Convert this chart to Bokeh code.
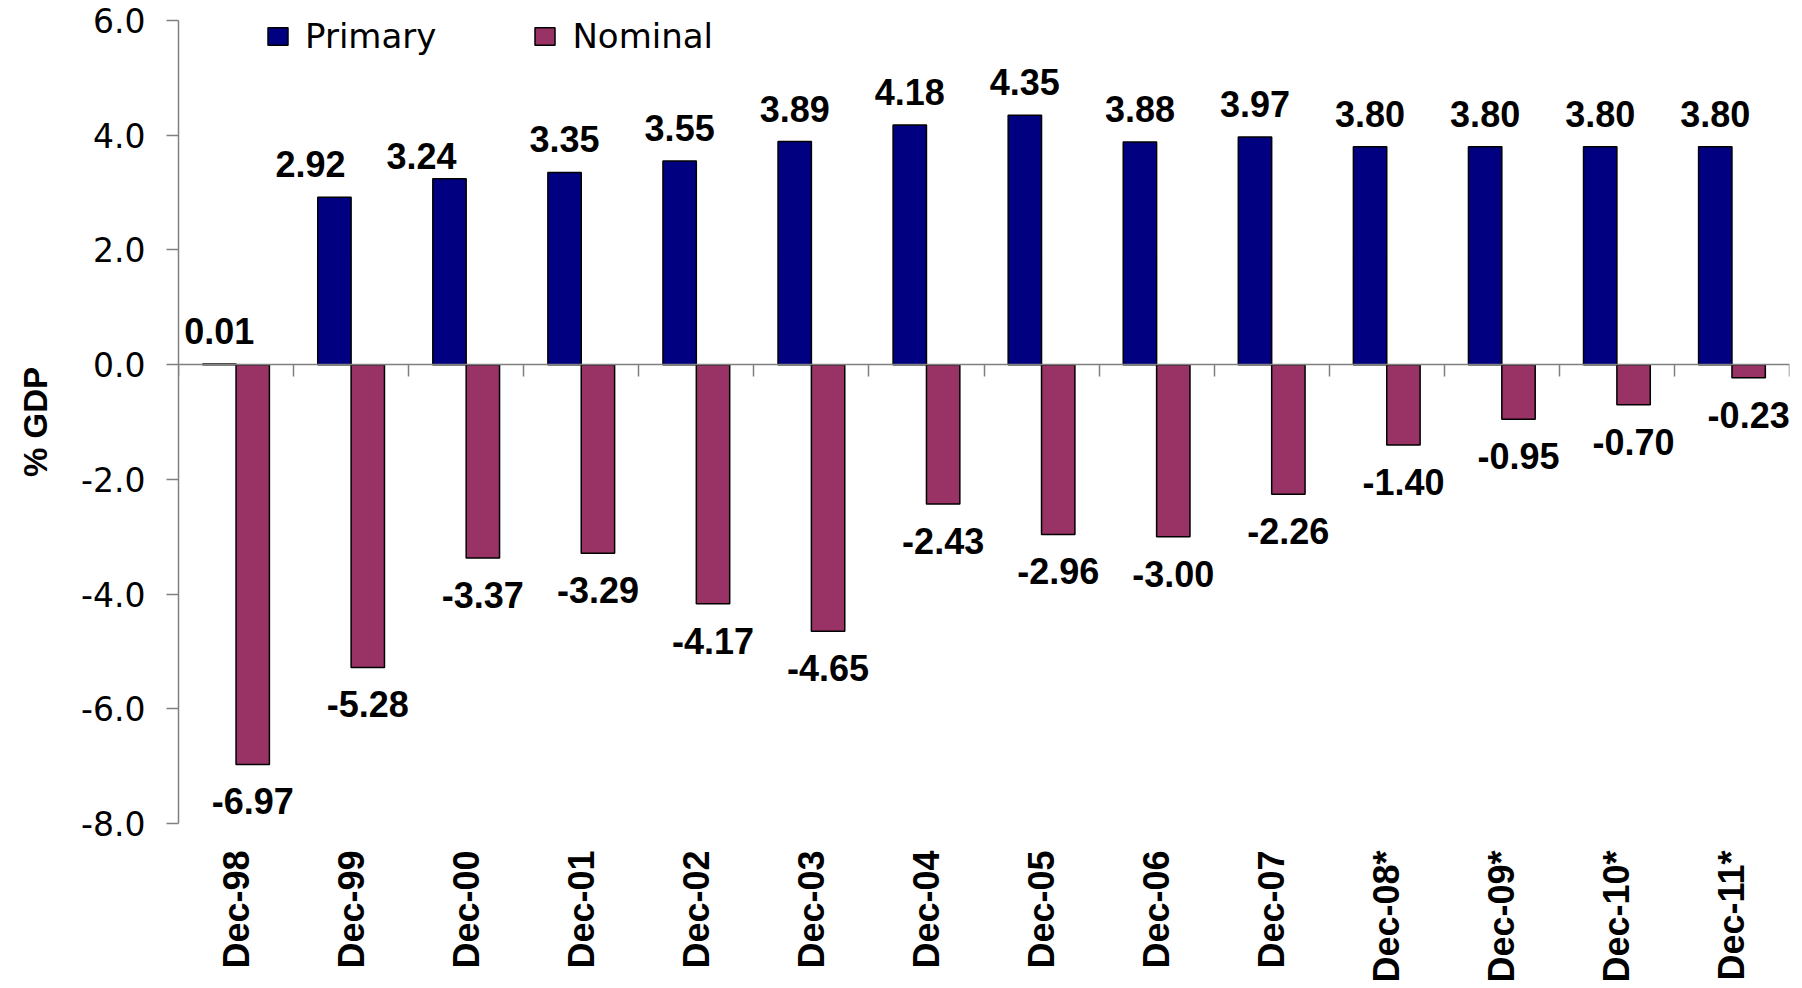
import math
from bokeh.plotting import figure
from bokeh.models import (Range1d, LinearAxis, FixedTicker,
                          NumeralTickFormatter, ColumnDataSource)
from bokeh.transform import dodge
from bokeh.core.properties import value
from bokeh.embed import file_html
from bokeh.resources import INLINE

# ---- data ----
categories = ["Dec-98", "Dec-99", "Dec-00", "Dec-01", "Dec-02", "Dec-03", "Dec-04",
              "Dec-05", "Dec-06", "Dec-07", "Dec-08*", "Dec-09*", "Dec-10*", "Dec-11*"]
primary = [0.01, 2.92, 3.24, 3.35, 3.55, 3.89, 4.18, 4.35, 3.88, 3.97, 3.80, 3.80, 3.80, 3.80]
nominal = [-6.97, -5.28, -3.37, -3.29, -4.17, -4.65, -2.43, -2.96, -3.00, -2.26, -1.40, -0.95, -0.70, -0.23]
y_ticks = [-8, -6, -4, -2, 0, 2, 4, 6]

# label placement nudges (screen px) for primary labels, as in the original
primary_label_dx = [0, -24, -28, 0, 0, 0, 0, 0, 0, 0, 0, 0, 0, 0]
primary_label_dy = [0, 0, 10, 0, 0, 0, 0, 0, 0, 0, 0, 0, 0, 0]

BLUE = "#000080"
PINK = "#993366"
GREY = "#808080"

n = len(categories)
centers = [i + 0.5 for i in range(n)]          # category slot centres
boundaries = list(range(n + 1))                 # slot boundaries (tick marks)

src = ColumnDataSource(dict(
    xc=centers,
    primary=primary,
    nominal=nominal,
    plab=[f"{v:.2f}" for v in primary],
    nlab=[f"{v:.2f}" for v in nominal],
    pdx=primary_label_dx,
    pdy=[-33 + d for d in primary_label_dy],
))

p = figure(x_range=Range1d(0, n), y_range=Range1d(-8, 6),
           width=1802, height=988, output_backend="svg", toolbar_location=None,
           min_border_left=178, min_border_right=13, min_border_top=20,
           min_border_bottom=165, x_axis_type=None)
p.outline_line_color = None
p.xgrid.visible = False
p.ygrid.visible = False
p.background_fill_color = "white"

# bars
p.vbar(x=dodge("xc", -0.145), top="primary", bottom=0, width=0.29,
       fill_color=BLUE, line_color="black", line_width=1.5, source=src,
       legend_label="Primary")
p.vbar(x=dodge("xc", 0.145), top="nominal", bottom=0, width=0.29,
       fill_color=PINK, line_color="black", line_width=1.5, source=src,
       legend_label="Nominal")

# value labels
p.text(x=dodge("xc", -0.145), y="primary", text="plab",
       x_offset="pdx", y_offset="pdy",
       text_font=value("Liberation Sans"), text_font_style="bold", text_font_size="36px",
       text_align="center", text_baseline="alphabetic", text_color="black", source=src)
p.text(x=dodge("xc", 0.145), y="nominal", text="nlab",
       y_offset=37,
       text_font=value("Liberation Sans"), text_font_style="bold", text_font_size="36px",
       text_align="center", text_baseline="alphabetic", text_color="black", source=src)

# category axis (labels only)
xa = LinearAxis(ticker=FixedTicker(ticks=centers),
                major_label_overrides={c: lab for c, lab in zip(centers, categories)})
xa.axis_line_color = None
xa.major_tick_line_color = None
xa.minor_tick_line_color = None
xa.major_tick_in = 0
xa.major_tick_out = 0
xa.major_label_orientation = math.pi / 2
xa.major_label_text_font = "Liberation Sans"
xa.major_label_text_font_style = "bold"
xa.major_label_text_font_size = "36px"
xa.major_label_text_color = "black"
xa.major_label_standoff = 27
p.add_layout(xa, "below")

# zero line axis with ticks between categories (placed in the top panel, drawn at y=0)
zax = LinearAxis(ticker=FixedTicker(ticks=boundaries), fixed_location=0)
zax.major_label_text_font_size = "0px"
zax.major_label_text_alpha = 0
zax.major_label_standoff = 0
zax.major_tick_in = 12
zax.major_tick_out = 0
zax.minor_tick_line_color = None
zax.axis_line_color = GREY
zax.major_tick_line_color = GREY
zax.axis_line_width = 1.5
zax.major_tick_line_width = 1.5
p.add_layout(zax, "above")

# y axis
ya = p.yaxis[0]
ya.ticker = FixedTicker(ticks=y_ticks)
ya.formatter = NumeralTickFormatter(format="0.0")
ya.major_label_text_font = "DejaVu Sans"
ya.major_label_text_font_size = "33px"
ya.major_label_text_color = "black"
ya.major_tick_in = 0
ya.major_tick_out = 12
ya.minor_tick_line_color = None
ya.axis_line_color = GREY
ya.major_tick_line_color = GREY
ya.axis_line_width = 1.5
ya.major_tick_line_width = 1.5
ya.major_label_standoff = 21
ya.axis_label = "% GDP"
ya.axis_label_text_font = "Liberation Sans"
ya.axis_label_text_font_style = "bold"
ya.axis_label_text_font_size = "33px"
ya.axis_label_text_color = "black"
ya.axis_label_standoff = 24

# legend
lg = p.legend[0]
lg.orientation = "horizontal"
lg.location = (87, 767)
lg.padding = 0
lg.margin = 0
lg.spacing = 96
lg.border_line_color = None
lg.background_fill_alpha = 0
lg.glyph_width = 25
lg.glyph_height = 22
lg.label_standoff = 15
lg.label_text_font = "DejaVu Sans"
lg.label_text_font_size = "34px"
lg.label_text_color = "black"

open("out.html", "w").write(file_html(p, INLINE))
